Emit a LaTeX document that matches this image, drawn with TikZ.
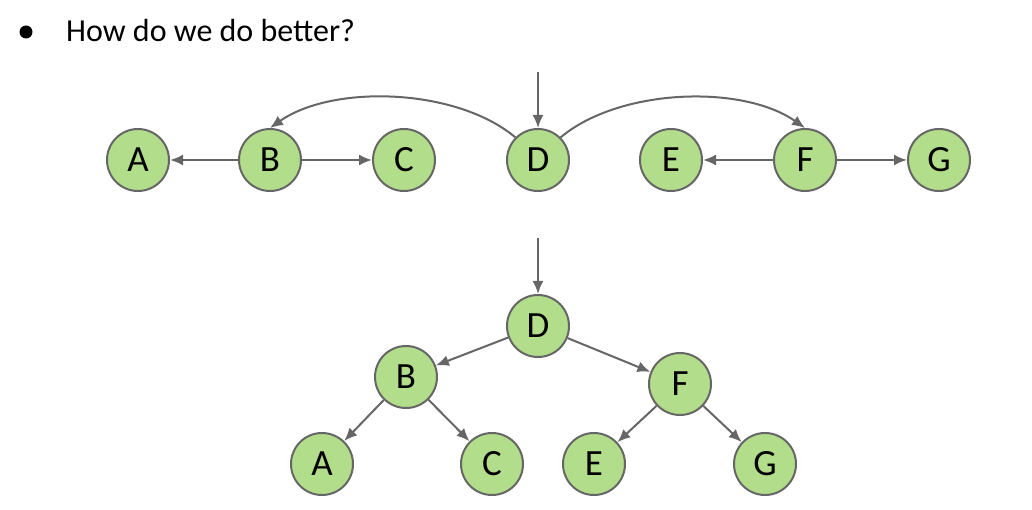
\documentclass[tikz,border=0pt]{standalone}
\usepackage{fontspec}
\setmainfont{Carlito}
\usepackage{xcolor}
\usetikzlibrary{arrows.meta}
\definecolor{leafgreen}{RGB}{178,221,139}
\definecolor{edgegray}{RGB}{102,102,102}

\begin{document}
\begin{tikzpicture}[x=1pt,y=-1pt,
    tree node/.style={circle,draw=edgegray,line width=2pt,fill=leafgreen,minimum size=62pt,inner sep=0pt,font=\fontsize{37}{37}\selectfont},
    link/.style={draw=edgegray,line width=2pt,-{Latex[length=13pt,width=11pt]}}]

    \useasboundingbox (0,0) rectangle (1032,510);

    % heading
    \fill[black] (26,32) circle (6.5);
    \node[anchor=west,font=\fontsize{32}{32}\selectfont,inner sep=0pt] (title) at (66,31) {How do we do better?};

    % sorted row
    \node[tree node] (a1) at (138,160) {A};
    \node[tree node] (b1) at (270,160) {B};
    \node[tree node] (c1) at (404,160) {C};
    \node[tree node] (d1) at (538,160) {D};
    \node[tree node] (e1) at (671,160) {E};
    \node[tree node] (f1) at (805,160) {F};
    \node[tree node] (g1) at (939,160) {G};
    \coordinate (in1) at (538,72);

    \path[every edge/.append style=link]
        (in1) edge (d1)
        (b1) edge (a1)
        (b1) edge (c1)
        (f1) edge (e1)
        (f1) edge (g1)
        (d1.135) edge[out=140,in=35,looseness=0.8] (b1.90)
        (d1.45) edge[out=40,in=145,looseness=0.8] (f1.90)
        ;

    % tree
    \node[tree node] (d2) at (538,326) {D};
    \node[tree node] (b2) at (406,377) {B};
    \node[tree node] (f2) at (680,384) {F};
    \node[tree node] (a2) at (322,464) {A};
    \node[tree node] (c2) at (492,464) {C};
    \node[tree node] (e2) at (594,464) {E};
    \node[tree node] (g2) at (765,464) {G};
    \coordinate (in2) at (538,238);

    \path[every edge/.append style=link]
        (in2) edge (d2)
        (d2) edge (b2)
        (d2) edge (f2)
        (b2) edge (a2)
        (b2) edge (c2)
        (f2) edge (e2)
        (f2) edge (g2)
        ;
\end{tikzpicture}
\end{document}
